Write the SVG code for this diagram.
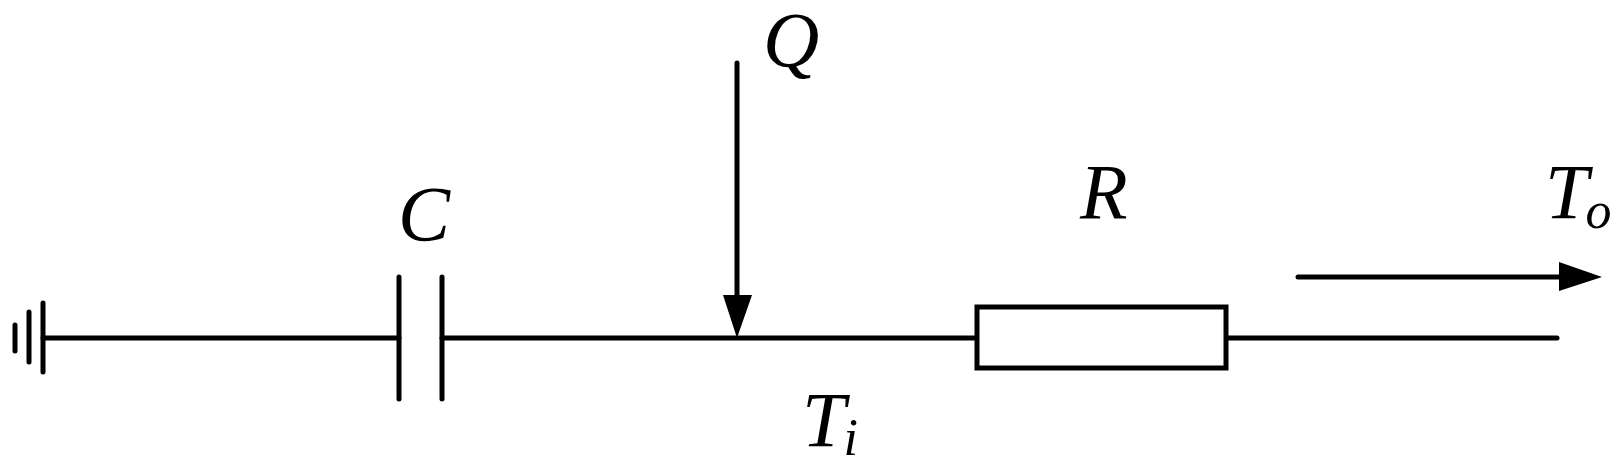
<svg xmlns="http://www.w3.org/2000/svg" width="1621" height="472" viewBox="0 0 1621 472">
<style>
.w{stroke:#000;stroke-width:5;fill:none;stroke-linecap:round}
.h{fill:#000;stroke:none}
text{font-family:"Liberation Serif","Times New Roman",serif;font-style:italic;fill:#000;font-size:78px}
.s{font-size:52px}
</style>
<rect width="1621" height="472" fill="#fff"/>
<g id="connectors">
<line class="w" x1="43" y1="338" x2="399" y2="338"/>
<line class="w" x1="442" y1="338" x2="976" y2="338"/>
<line class="w" x1="1226" y1="338" x2="1557" y2="338"/>
<line class="w" x1="737" y1="63" x2="737" y2="300"/>
<polygon class="h" points="723,295 752,295 737,338"/>
<line class="w" x1="1298" y1="277" x2="1565" y2="277"/>
<polygon class="h" points="1559,262 1602,277 1559,291"/>
</g>
<g id="ground">
<line class="w" x1="15" y1="325" x2="15" y2="351"/>
<line class="w" x1="29" y1="312" x2="29" y2="362"/>
<line class="w" x1="43" y1="303" x2="43" y2="372"/>
</g>
<g id="capacitor">
<line class="w" x1="399" y1="277" x2="399" y2="399"/>
<line class="w" x1="442" y1="277" x2="442" y2="399"/>
<text x="398" y="240">C</text>
</g>
<g id="resistor">
<rect x="977" y="307" width="249" height="61" fill="#fff" stroke="#000" stroke-width="5"/>
<text x="1080" y="218">R</text>
</g>
<g id="heat-source"><text x="763" y="66">Q</text></g>
<g id="inner-temp"><text x="802" y="446">T<tspan class="s" dx="-2" dy="9">i</tspan></text></g>
<g id="outer-temp"><text x="1545" y="218">T<tspan class="s" dx="-3" dy="10">o</tspan></text></g>
</svg>
